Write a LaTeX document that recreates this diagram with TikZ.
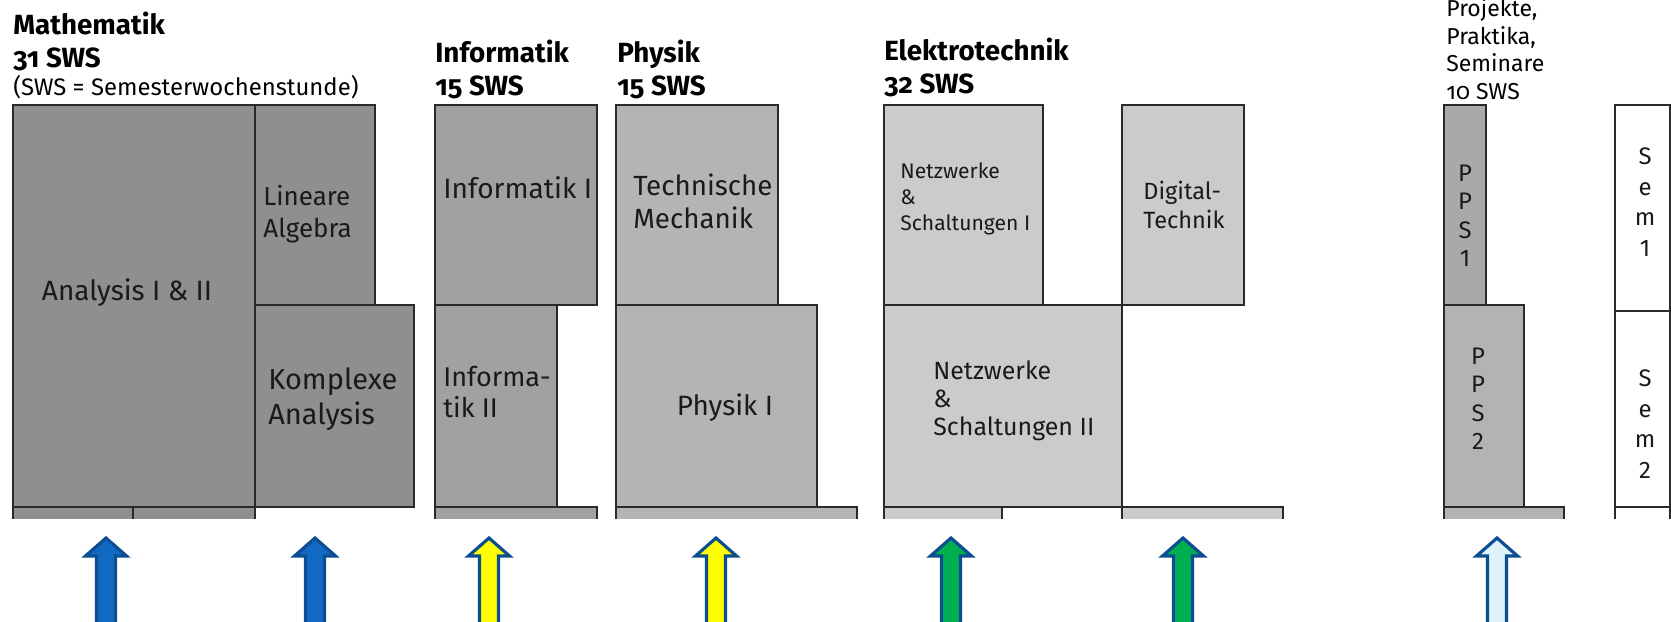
\documentclass[tikz,border=0pt]{standalone}
\usepackage{fontspec}
\setmainfont{Fira Sans}
\newfontfamily\headfont{Fira Sans}[RawFeature=+onum]

\definecolor{mathgray}{HTML}{8F8F8F}
\definecolor{infgray}{HTML}{A1A1A1}
\definecolor{phygray}{HTML}{B4B4B4}
\definecolor{etgray}{HTML}{CBCBCB}
\definecolor{ppsgray}{HTML}{A9A9A9}
\definecolor{ppsgraylight}{HTML}{B3B3B3}
\definecolor{framegray}{HTML}{2A2A2A}
\definecolor{textgray}{HTML}{1A1A1A}
\definecolor{arrowrim}{HTML}{0D4D92}
\definecolor{arrowblue}{HTML}{1269C4}
\definecolor{arrowyellow}{HTML}{FFFF00}
\definecolor{arrowgreen}{HTML}{00B050}
\definecolor{arrowpale}{HTML}{DDF3F9}

\begin{document}
\begin{tikzpicture}[
        x=0.02cm, y=-0.02cm,
        course/.style={draw=framegray, line width=1.4pt},
        heading/.style={anchor=north west, inner sep=0pt, align=left, text=black,
                        font=\headfont\bfseries\fontsize{15.8}{18.8}\selectfont},
        boxtext/.style={inner sep=0pt, text=textgray},
        stacked/.style={anchor=north, inner sep=0pt, align=center, text=textgray,
                        font=\fontsize{13.6}{16}\selectfont},
        blockarrow/.style={draw=arrowrim, line width=1.8pt, line join=miter}
    ]
    \useasboundingbox (0,0) rectangle (1671,622);
    \clip (0,0) rectangle (1671,622);

    % column headings
    \node[heading] (mathhead) at (13,12) {Mathematik\\31 SWS};
    \node[anchor=base west, inner sep=0pt, font=\fontsize{13.6}{15}\selectfont] (swsnote) at (13,95) {(SWS = Semesterwochenstunde)};
    \node[heading] (infohead) at (435,40) {Informatik\\15 SWS};
    \node[heading] (physhead) at (617,40) {Physik\\15 SWS};
    \node[heading] (etechhead) at (884,38) {Elektrotechnik\\32 SWS};
    \node[heading, font=\headfont\fontsize{13.1}{15.8}\selectfont] (ppshead) at (1446,-2) {Projekte,\\Praktika,\\Seminare\\10 SWS};

    % Mathematik
    \draw[course, fill=mathgray] (13,105) rectangle (255,507);
    \draw[course, fill=mathgray] (255,105) rectangle (375,305);
    \draw[course, fill=mathgray] (255,305) rectangle (414,507);
    \node[boxtext, anchor=base, font=\fontsize{15.9}{19}\selectfont] (analysis) at (127,300) {Analysis I \& II};
    \node[boxtext, anchor=north west, align=left, font=\fontsize{14.8}{18.2}\selectfont] (linalg) at (263,185) {Lineare\\Algebra};
    \node[boxtext, anchor=north west, align=left, font=\fontsize{16.5}{19.9}\selectfont] (komplex) at (268,367) {Komplexe\\Analysis};

    % Informatik
    \draw[course, fill=infgray] (435,105) rectangle (597,305);
    \draw[course, fill=infgray] (435,305) rectangle (557,507);
    \node[boxtext, anchor=base west, font=\fontsize{16}{19}\selectfont] (infoone) at (443,198) {Informatik I};
    \node[boxtext, anchor=north west, align=left, font=\fontsize{15.4}{17.6}\selectfont] (infotwo) at (443,366) {Informa-\\tik II};

    % Physik
    \draw[course, fill=phygray] (616,105) rectangle (778,305);
    \draw[course, fill=phygray] (616,305) rectangle (817,507);
    \node[boxtext, anchor=north west, align=left, font=\fontsize{15.8}{19.3}\selectfont] (techmech) at (633,173) {Technische\\Mechanik};
    \node[boxtext, anchor=base, font=\fontsize{15.9}{19}\selectfont] (physone) at (725,415) {Physik I};

    % Elektrotechnik
    \draw[course, fill=etgray] (884,105) rectangle (1043,305);
    \draw[course, fill=etgray] (1122,105) rectangle (1244,305);
    \draw[course, fill=etgray] (884,305) rectangle (1122,507);
    \node[boxtext, anchor=north west, align=left, font=\fontsize{12}{14.8}\selectfont] (netzone) at (900,162) {Netzwerke\\\&\\Schaltungen I};
    \node[boxtext, anchor=north west, align=left, font=\fontsize{13.4}{16.5}\selectfont] (digital) at (1143,181) {Digital-\\Technik};
    \node[boxtext, anchor=north west, align=left, font=\fontsize{14.2}{16}\selectfont] (netztwo) at (933,360) {Netzwerke\\\&\\Schaltungen II};

    % Projekte, Praktika, Seminare
    \draw[course, fill=ppsgray] (1444,105) rectangle (1486,305);
    \draw[course, fill=ppsgraylight] (1444,305) rectangle (1524,507);
    \node[stacked] (ppsone) at (1465,165) {P\\P\\S\\1};
    \node[stacked] (ppstwo) at (1478,348) {P\\P\\S\\2};

    % Semester
    \draw[course, fill=white] (1615,105) rectangle (1670,311);
    \draw[course, fill=white] (1615,311) rectangle (1670,507);
    \node[stacked, font=\fontsize{13.6}{17.6}\selectfont] (semone) at (1645,147) {S\\e\\m\\1};
    \node[stacked, font=\fontsize{13.6}{17.6}\selectfont] (semtwo) at (1645,369) {S\\e\\m\\2};

    % next row, cut off
    \begin{scope}
        \clip (0,0) rectangle (1671,518);
        \draw[course, fill=mathgray] (13,507) rectangle (133,540);
        \draw[course, fill=mathgray] (133,507) rectangle (255,540);
        \draw[course, fill=infgray] (435,507) rectangle (597,540);
        \draw[course, fill=phygray] (616,507) rectangle (857,540);
        \draw[course, fill=etgray] (884,507) rectangle (1002,540);
        \draw[course, fill=white] (1002,507) rectangle (1122,540);
        \draw[course, fill=etgray] (1122,507) rectangle (1283,540);
        \draw[course, fill=ppsgraylight] (1444,507) rectangle (1564,540);
        \draw[course, fill=white] (1615,507) rectangle (1670,540);
    \end{scope}

    % block arrows
    \foreach \ax/\acol in {106/arrowblue, 315/arrowblue, 489/arrowyellow, 716/arrowyellow,
                           951/arrowgreen, 1183/arrowgreen, 1497/arrowpale}
        \draw[blockarrow, fill=\acol] (\ax-9.5,640) -- (\ax-9.5,556) -- (\ax-20.5,556)
            -- (\ax,538) -- (\ax+20.5,556) -- (\ax+9.5,556) -- (\ax+9.5,640) -- cycle;
\end{tikzpicture}
\end{document}
